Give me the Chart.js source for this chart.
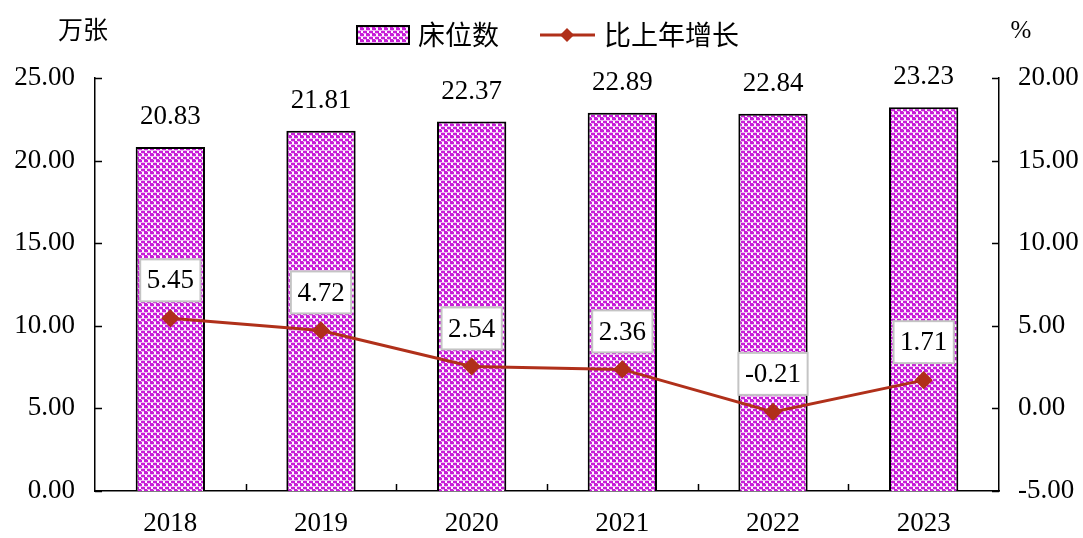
<!DOCTYPE html>
<html>
<head>
<meta charset="utf-8">
<script src="https://cdn.jsdelivr.net/npm/chart.js@4/dist/chart.umd.min.js"></script>
<style>
  html, body { margin: 0; padding: 0; background: #fff; }
  #wrap { width: 1083px; height: 538px; position: relative; }
</style>
</head>
<body>
<div id="wrap"><canvas id="bedChart"></canvas></div>
<script>
var years = ['2018', '2019', '2020', '2021', '2022', '2023'];
var beds = [20.83, 21.81, 22.37, 22.89, 22.84, 23.23];
var growth = [5.45, 4.72, 2.54, 2.36, -0.21, 1.71];
var bedLabel = '床位数';
var growthLabel = '比上年增长';
var leftUnit = '万张';
var rightUnit = '%';

var FONT = '"Liberation Serif", "Times New Roman", "Noto Sans CJK SC", serif';
var CJK = '"Noto Sans CJK SC", sans-serif';
var LINE_COLOR = '#b0301a';

function makePattern() {
    var c = document.createElement('canvas');
    c.width = 6; c.height = 6;
    var g = c.getContext('2d');
    g.fillStyle = '#c81ed8';
    g.fillRect(0, 0, 6, 6);
    g.fillStyle = '#eeb4f2';
    g.fillRect(0, 0, 6, 1);
    g.fillRect(3, 3, 6, 1);
    g.fillStyle = '#ffffff';
    g.fillRect(1, 1, 2, 2);
    g.fillRect(4, 4, 2, 2);
    return document.createElement('canvas').getContext('2d').createPattern(c, 'repeat');
}

var pattern = makePattern();

// inward ticks, unit labels, value labels, legend
var extrasPlugin = {
    id: 'extras',
    afterDraw: function (chart) {
        var ctx = chart.ctx;
        var area = chart.chartArea;
        var yL = chart.scales.y;
        var yR = chart.scales.y1;
        var x = chart.scales.x;
        ctx.save();
        ctx.strokeStyle = '#000';
        ctx.lineWidth = 1.5;
        ctx.beginPath();
        yL.ticks.forEach(function (t) {
            var py = Math.round(yL.getPixelForValue(t.value)) + 0.5;
            ctx.moveTo(area.left, py); ctx.lineTo(area.left + 7, py);
        });
        yR.ticks.forEach(function (t) {
            var py = Math.round(yR.getPixelForValue(t.value)) + 0.5;
            ctx.moveTo(area.right, py); ctx.lineTo(area.right - 7, py);
        });
        for (var i = 1; i < years.length; i++) {
            var px = Math.round((x.getPixelForValue(i - 1) + x.getPixelForValue(i)) / 2) + 0.5;
            ctx.moveTo(px, area.bottom); ctx.lineTo(px, area.bottom - 7);
        }
        ctx.stroke();

        // units
        ctx.fillStyle = '#000';
        ctx.font = '25px ' + CJK;
        ctx.textAlign = 'center';
        ctx.textBaseline = 'middle';
        ctx.fillText(leftUnit, 83, 29);
        ctx.font = '25px ' + FONT;
        ctx.fillText(rightUnit, 1021, 31);

        // bar value labels
        ctx.font = '27px ' + FONT;
        var barMeta = chart.getDatasetMeta(0);
        barMeta.data.forEach(function (bar, i) {
            ctx.fillText(beds[i].toFixed(2), bar.x, bar.y - 30);
        });

        // line value labels in boxes
        var lineMeta = chart.getDatasetMeta(1);
        lineMeta.data.forEach(function (pt, i) {
            var txt = growth[i].toFixed(2);
            var w = ctx.measureText(txt).width + 13;
            var h = 42;
            var cy = pt.y - 38;
            ctx.fillStyle = '#fff';
            ctx.fillRect(pt.x - w / 2, cy - h / 2, w, h);
            ctx.strokeStyle = '#c4c4c4';
            ctx.lineWidth = 2;
            ctx.strokeRect(pt.x - w / 2, cy - h / 2, w, h);
            ctx.fillStyle = '#000';
            ctx.fillText(txt, pt.x, cy + 1);
        });

        // legend
        ctx.fillStyle = pattern;
        ctx.fillRect(357, 26, 52, 18);
        ctx.strokeStyle = '#000';
        ctx.lineWidth = 2;
        ctx.strokeRect(357, 26, 52, 18);
        ctx.fillStyle = '#000';
        ctx.textAlign = 'left';
        ctx.font = '27px ' + CJK;
        ctx.fillText(bedLabel, 418, 35);
        ctx.strokeStyle = LINE_COLOR;
        ctx.lineWidth = 3;
        ctx.beginPath();
        ctx.moveTo(540, 35); ctx.lineTo(595, 35);
        ctx.stroke();
        ctx.fillStyle = LINE_COLOR;
        ctx.beginPath();
        ctx.moveTo(567, 28); ctx.lineTo(574, 35); ctx.lineTo(567, 42); ctx.lineTo(560, 35);
        ctx.closePath();
        ctx.fill();
        ctx.fillStyle = '#000';
        ctx.fillText(growthLabel, 604, 35);
        ctx.restore();
    }
};

document.addEventListener('DOMContentLoaded', function () {
    var ctx = document.getElementById('bedChart').getContext('2d');
    new Chart(ctx, {
        data: {
            labels: years,
            datasets: [{
                type: 'bar',
                label: bedLabel,
                data: beds,
                backgroundColor: pattern,
                borderColor: '#000',
                borderWidth: 2,
                borderSkipped: 'bottom',
                categoryPercentage: 1,
                barPercentage: 0.46,
                yAxisID: 'y',
                order: 2
            }, {
                type: 'line',
                label: growthLabel,
                data: growth,
                borderColor: LINE_COLOR,
                backgroundColor: LINE_COLOR,
                borderWidth: 3,
                pointStyle: 'rectRot',
                pointRadius: 7,
                pointHoverRadius: 7,
                tension: 0,
                yAxisID: 'y1',
                order: 1
            }]
        },
        options: {
            responsive: true,
            maintainAspectRatio: false,
            animation: false,
            layout: { padding: { top: 78, bottom: 0, left: 0, right: 0 } },
            plugins: {
                legend: { display: false },
                tooltip: { enabled: false }
            },
            scales: {
                x: {
                    grid: { display: false, drawTicks: false },
                    border: { color: '#000', width: 1.5 },
                    ticks: { color: '#000', font: { family: FONT, size: 27 }, padding: 17 },
                    afterFit: function (s) { s.height = 47; }
                },
                y: {
                    position: 'left',
                    min: 0, max: 25,
                    grid: { display: false, drawTicks: false },
                    border: { color: '#000', width: 1.5 },
                    ticks: {
                        stepSize: 5, color: '#000', padding: 20,
                        font: { family: FONT, size: 27 },
                        callback: function (v) { return v.toFixed(2); }
                    },
                    afterFit: function (s) { s.width = 95; }
                },
                y1: {
                    position: 'right',
                    min: -5, max: 20,
                    grid: { display: false, drawTicks: false },
                    border: { color: '#000', width: 1.5 },
                    ticks: {
                        stepSize: 5, color: '#000', padding: 19,
                        font: { family: FONT, size: 27 },
                        callback: function (v) { return v.toFixed(2); }
                    },
                    afterFit: function (s) { s.width = 84; }
                }
            }
        },
        plugins: [extrasPlugin]
    });
});
</script>
</body>
</html>
